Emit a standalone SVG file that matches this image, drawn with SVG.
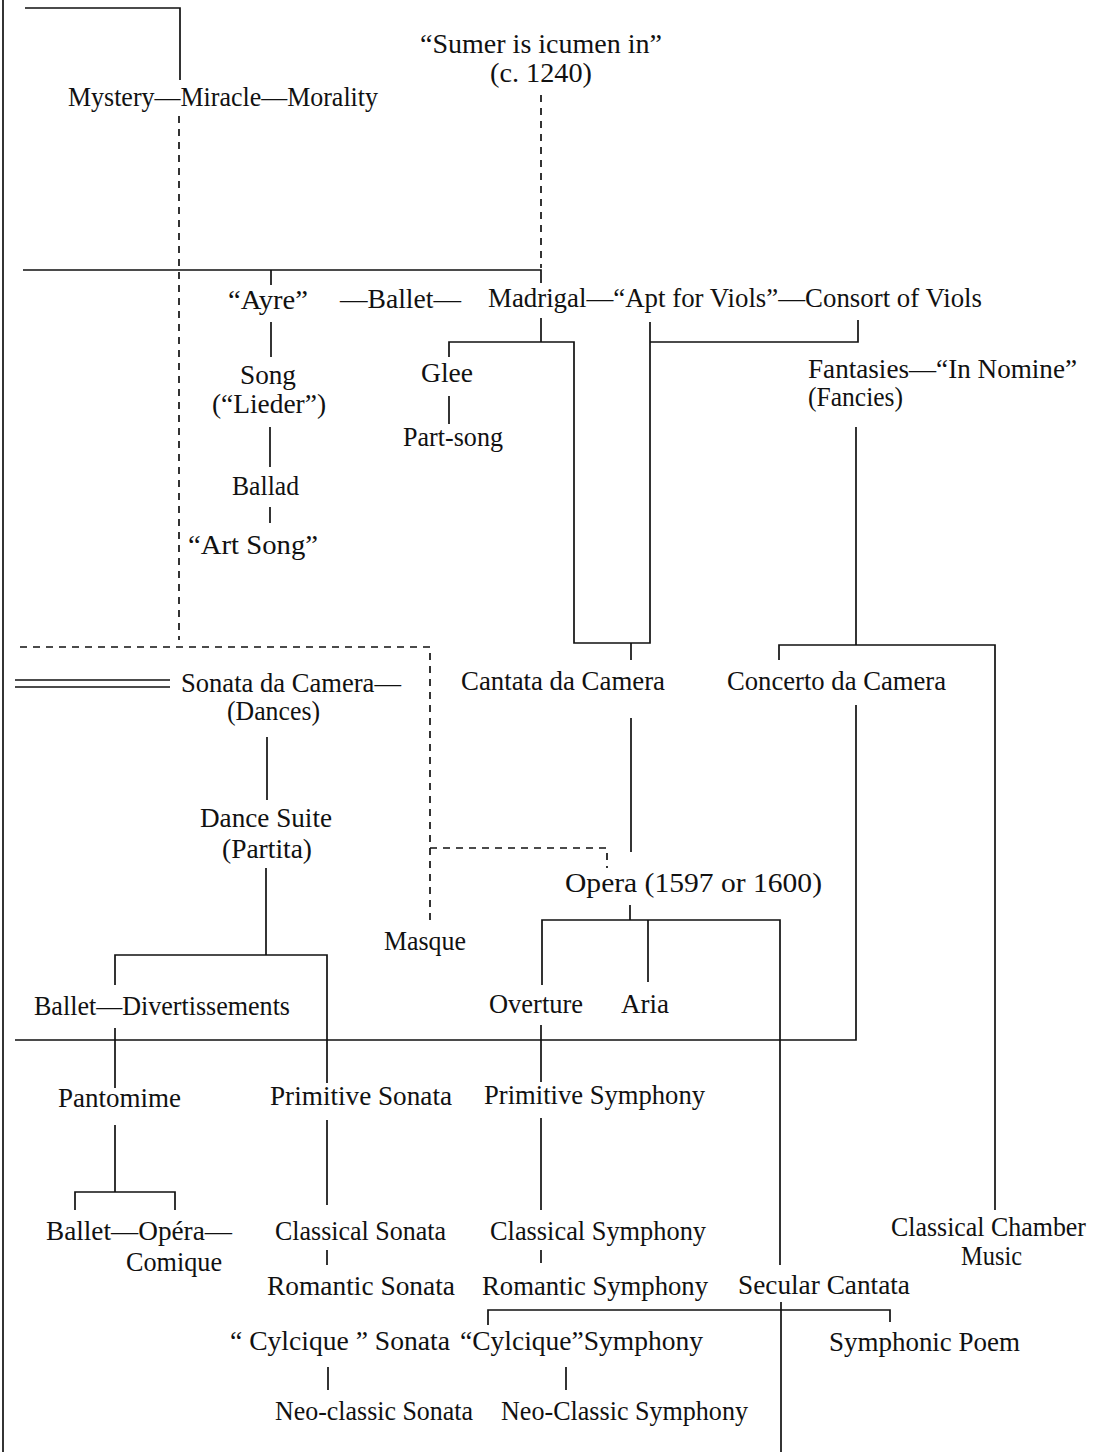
<svg xmlns="http://www.w3.org/2000/svg" width="1112" height="1452" viewBox="0 0 1112 1452">
<style>
text{font-family:"Liberation Serif","Times New Roman",serif;font-size:27px;fill:#111}
.l{stroke:#111;stroke-width:1.7;fill:none}
.d{stroke:#111;stroke-width:1.7;fill:none;stroke-dasharray:7 6}
</style>
<rect width="1112" height="1452" fill="#fff"/>
<g id="connectors">
<line class="l" x1="3" y1="0" x2="3" y2="1452"/>
<polyline class="l" points="25,8 180,8 180,80"/>
<line class="d" x1="179" y1="116" x2="179" y2="640"/>
<line class="d" x1="541" y1="95" x2="541" y2="268"/>
<polyline class="l" points="23,270 541,270 541,283"/>
<line class="l" x1="271" y1="270" x2="271" y2="285"/>
<line class="l" x1="271" y1="322" x2="271" y2="357"/>
<line class="l" x1="270" y1="427" x2="270" y2="467"/>
<line class="l" x1="270" y1="507" x2="270" y2="523"/>
<polyline class="l" points="541,318 541,342"/>
<polyline class="l" points="449,357 449,342 574,342 574,643 650,643 650,322"/>
<polyline class="l" points="650,342 858,342 858,320"/>
<line class="l" x1="449" y1="396" x2="449" y2="424"/>
<line class="l" x1="631" y1="643" x2="631" y2="660"/>
<polyline class="l" points="856,427 856,645"/>
<polyline class="l" points="779,660 779,645 995,645 995,1210"/>
<line class="l" x1="631" y1="718" x2="631" y2="852"/>
<polyline class="l" points="856,705 856,1040 15,1040"/>
<polyline class="d" points="20,647 430,647 430,920"/>
<polyline class="d" points="430,848 607,848 607,868"/>
<line class="l" x1="15" y1="680" x2="170" y2="680"/>
<line class="l" x1="15" y1="687" x2="170" y2="687"/>
<line class="l" x1="267" y1="737" x2="267" y2="800"/>
<polyline class="l" points="266,868 266,955"/>
<polyline class="l" points="115,985 115,955 327,955 327,1083"/>
<line class="l" x1="327" y1="1120" x2="327" y2="1205"/>
<line class="l" x1="630" y1="905" x2="630" y2="920"/>
<polyline class="l" points="542,985 542,920 780,920 780,1265"/>
<line class="l" x1="648" y1="920" x2="648" y2="982"/>
<line class="l" x1="115" y1="1028" x2="115" y2="1088"/>
<line class="l" x1="541" y1="1025" x2="541" y2="1082"/>
<line class="l" x1="115" y1="1125" x2="115" y2="1192"/>
<polyline class="l" points="75,1210 75,1192 175,1192 175,1210"/>
<line class="l" x1="541" y1="1118" x2="541" y2="1210"/>
<line class="l" x1="327" y1="1250" x2="327" y2="1265"/>
<line class="l" x1="541" y1="1250" x2="541" y2="1263"/>
<line class="l" x1="781" y1="1302" x2="781" y2="1452"/>
<polyline class="l" points="488,1325 488,1310 890,1310 890,1322"/>
<line class="l" x1="328" y1="1367" x2="328" y2="1390"/>
<line class="l" x1="566" y1="1367" x2="566" y2="1390"/>
</g>
<g id="n-sumer"><text x="420" y="53" textLength="242" lengthAdjust="spacingAndGlyphs">“Sumer is icumen in”</text><text x="490" y="82" textLength="102" lengthAdjust="spacingAndGlyphs">(c. 1240)</text></g>
<g id="n-mystery"><text x="68" y="106" textLength="310" lengthAdjust="spacingAndGlyphs">Mystery—Miracle—Morality</text></g>
<g id="n-ayre"><text x="228" y="309" textLength="80" lengthAdjust="spacingAndGlyphs">“Ayre”</text></g>
<g id="n-ballet1"><text x="340" y="308" textLength="121" lengthAdjust="spacingAndGlyphs">—Ballet—</text></g>
<g id="n-madrigal"><text x="488" y="307" textLength="494" lengthAdjust="spacingAndGlyphs">Madrigal—“Apt for Viols”—Consort of Viols</text></g>
<g id="n-song"><text x="240" y="384" textLength="56" lengthAdjust="spacingAndGlyphs">Song</text><text x="212" y="413" textLength="114" lengthAdjust="spacingAndGlyphs">(“Lieder”)</text></g>
<g id="n-ballad"><text x="232" y="495" textLength="67" lengthAdjust="spacingAndGlyphs">Ballad</text></g>
<g id="n-artsong"><text x="188" y="554" textLength="130" lengthAdjust="spacingAndGlyphs">“Art Song”</text></g>
<g id="n-glee"><text x="421" y="382" textLength="52" lengthAdjust="spacingAndGlyphs">Glee</text></g>
<g id="n-partsong"><text x="403" y="446" textLength="100" lengthAdjust="spacingAndGlyphs">Part-song</text></g>
<g id="n-fantasies"><text x="808" y="378" textLength="269" lengthAdjust="spacingAndGlyphs">Fantasies—“In Nomine”</text><text x="808" y="406" textLength="95" lengthAdjust="spacingAndGlyphs">(Fancies)</text></g>
<g id="n-sonatacamera"><text x="181" y="692" textLength="220" lengthAdjust="spacingAndGlyphs">Sonata da Camera—</text><text x="227" y="720" textLength="93" lengthAdjust="spacingAndGlyphs">(Dances)</text></g>
<g id="n-cantatacamera"><text x="461" y="690" textLength="204" lengthAdjust="spacingAndGlyphs">Cantata da Camera</text></g>
<g id="n-concertocamera"><text x="727" y="690" textLength="219" lengthAdjust="spacingAndGlyphs">Concerto da Camera</text></g>
<g id="n-dancesuite"><text x="200" y="827" textLength="132" lengthAdjust="spacingAndGlyphs">Dance Suite</text><text x="222" y="858" textLength="90" lengthAdjust="spacingAndGlyphs">(Partita)</text></g>
<g id="n-opera"><text x="565" y="892" textLength="257" lengthAdjust="spacingAndGlyphs">Opera (1597 or 1600)</text></g>
<g id="n-masque"><text x="384" y="950" textLength="82" lengthAdjust="spacingAndGlyphs">Masque</text></g>
<g id="n-balletdiv"><text x="34" y="1015" textLength="256" lengthAdjust="spacingAndGlyphs">Ballet—Divertissements</text></g>
<g id="n-overture"><text x="489" y="1013" textLength="94" lengthAdjust="spacingAndGlyphs">Overture</text></g>
<g id="n-aria"><text x="621" y="1013" textLength="48" lengthAdjust="spacingAndGlyphs">Aria</text></g>
<g id="n-pantomime"><text x="58" y="1107" textLength="123" lengthAdjust="spacingAndGlyphs">Pantomime</text></g>
<g id="n-primsonata"><text x="270" y="1105" textLength="182" lengthAdjust="spacingAndGlyphs">Primitive Sonata</text></g>
<g id="n-primsymph"><text x="484" y="1104" textLength="221" lengthAdjust="spacingAndGlyphs">Primitive Symphony</text></g>
<g id="n-balletopera"><text x="46" y="1240" textLength="186" lengthAdjust="spacingAndGlyphs">Ballet—Opéra—</text><text x="126" y="1271" textLength="96" lengthAdjust="spacingAndGlyphs">Comique</text></g>
<g id="n-classsonata"><text x="275" y="1240" textLength="171" lengthAdjust="spacingAndGlyphs">Classical Sonata</text></g>
<g id="n-classsymph"><text x="490" y="1240" textLength="216" lengthAdjust="spacingAndGlyphs">Classical Symphony</text></g>
<g id="n-chamber"><text x="891" y="1236" textLength="195" lengthAdjust="spacingAndGlyphs">Classical Chamber</text><text x="961" y="1265" textLength="61" lengthAdjust="spacingAndGlyphs">Music</text></g>
<g id="n-romsonata"><text x="267" y="1295" textLength="188" lengthAdjust="spacingAndGlyphs">Romantic Sonata</text></g>
<g id="n-romsymph"><text x="482" y="1295" textLength="226" lengthAdjust="spacingAndGlyphs">Romantic Symphony</text></g>
<g id="n-secular"><text x="738" y="1294" textLength="172" lengthAdjust="spacingAndGlyphs">Secular Cantata</text></g>
<g id="n-cycsonata"><text x="230" y="1350" textLength="220" lengthAdjust="spacingAndGlyphs">“ Cylcique ” Sonata</text></g>
<g id="n-cycsymph"><text x="460" y="1350" textLength="243" lengthAdjust="spacingAndGlyphs">“Cylcique”Symphony</text></g>
<g id="n-poem"><text x="829" y="1351" textLength="191" lengthAdjust="spacingAndGlyphs">Symphonic Poem</text></g>
<g id="n-neosonata"><text x="275" y="1420" textLength="198" lengthAdjust="spacingAndGlyphs">Neo-classic Sonata</text></g>
<g id="n-neosymph"><text x="501" y="1420" textLength="247" lengthAdjust="spacingAndGlyphs">Neo-Classic Symphony</text></g>
</svg>
